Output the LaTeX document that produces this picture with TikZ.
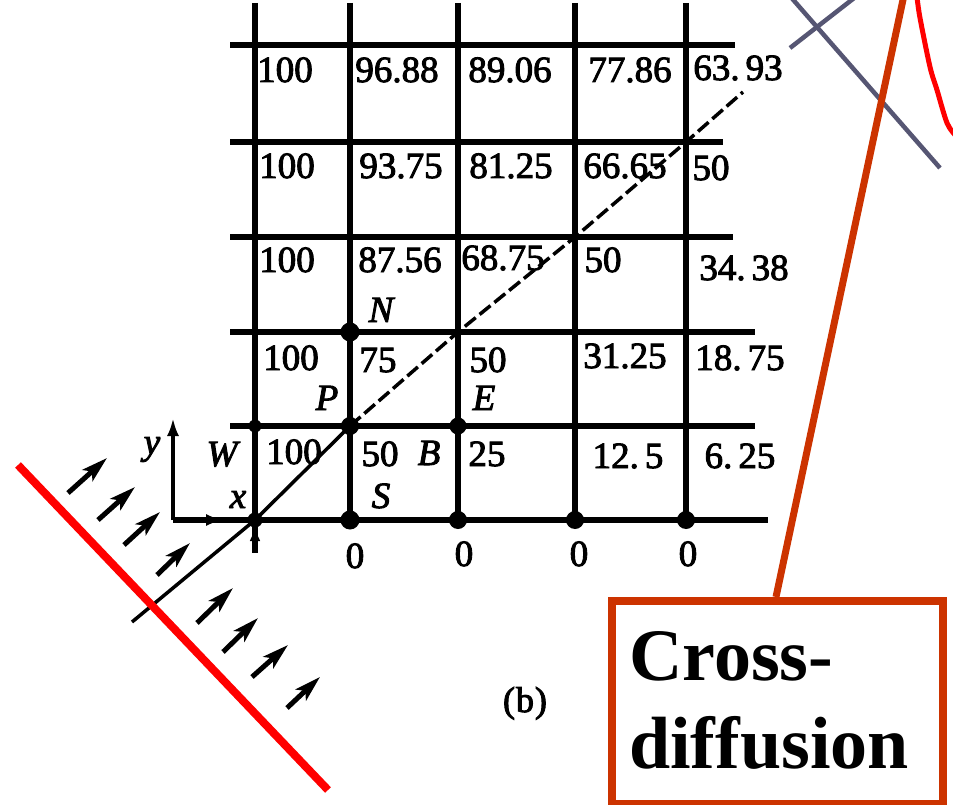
\documentclass[tikz,border=0pt]{standalone}
\usepackage{fontspec}
\setmainfont{Liberation Serif}
\newfontfamily\scanfont[FakeBold=2.5]{Liberation Serif}
\usetikzlibrary{arrows.meta}
\definecolor{boxred}{RGB}{204,51,0}
\definecolor{slate}{RGB}{86,86,115}
\begin{document}
\begin{tikzpicture}[x=1pt,y=-1pt,
  gridline/.style={line width=5.5pt},
  num/.style={anchor=base,inner sep=0pt,font=\scanfont\fontsize{37}{40}\selectfont},
  lab/.style={anchor=base,inner sep=0pt,font=\scanfont\fontsize{37}{40}\selectfont\itshape},
  dot/.style={circle,fill=black,inner sep=0pt,minimum size=#1},
  dot/.default=17pt,
  flow/.style={line width=5pt,-{Stealth[length=26pt,width=15pt,inset=6pt]}},
  axisline/.style={line width=3.5pt},
]
\useasboundingbox (0,0) rectangle (953,805);
% grid
\foreach \x in {255,350,458,575,686} \draw[gridline] (\x,3) -- (\x,520);
\draw[gridline] (255,520) -- (255,553);
\draw[gridline] (230,45) -- (735,45);
\draw[gridline] (230,142) -- (723,142);
\draw[gridline] (230,237) -- (733,237);
\draw[gridline] (230,332) -- (755,332);
\draw[gridline] (230,426) -- (755,426);
\draw[gridline] (173,520) -- (768,520);
% axes
\coordinate (o) at (173,520);
\coordinate (ytip) at (173,418);
\coordinate (xtip) at (224,520);
\draw[axisline,-{Latex[length=18pt,width=12pt]}] (o) -- (ytip);
\draw[axisline,-{Latex[length=18pt,width=12pt]}] (o) -- (xtip);
\coordinate (ub) at (255,553);
\coordinate (ut) at (255,527);
\draw[axisline,-{Latex[length=14pt,width=11pt]}] (ub) -- (ut);
% diagonal
\coordinate (d0) at (132,622);
\coordinate (d1) at (255,520);
\coordinate (d2) at (350,426);
\coordinate (d3) at (458,332);
\coordinate (d4) at (575,237);
\coordinate (d5) at (686,142);
\coordinate (d6) at (743,92);
\draw[line width=3.5pt] (d0) -- (d1) -- (d2);
\draw[line width=3.5pt,dash pattern=on 14pt off 5pt] (d2) -- (d3) -- (d4) -- (d5) -- (d6);
% dots
\node[dot=19pt] (nN) at (350,332) {};
\node[dot=18pt] (nP) at (350,426) {};
\node[dot=13pt] (nW) at (255,426) {};
\node[dot=17pt] (nE) at (458,426) {};
\node[dot=15pt] (b1) at (255,520) {};
\node[dot=19pt] (b2) at (350,520) {};
\node[dot=18pt] (b3) at (458,520) {};
\node[dot=18pt] (b4) at (575,520) {};
\node[dot=18pt] (b5) at (686,520) {};
% numbers row 1
\node[num] (r1a) at (285,82) {100};
\node[num] (r1b) at (397,82) {96.88};
\node[num] (r1c) at (510,82) {89.06};
\node[num] (r1d) at (630,82) {77.86};
\node[num] (r1e) at (738,80) {63.\kern6pt 93};
% row 2
\node[num] (r2a) at (287,178) {100};
\node[num] (r2b) at (401,178) {93.75};
\node[num] (r2c) at (511,178) {81.25};
\node[num] (r2d) at (625,178) {66.65};
\node[num] (r2e) at (711,180) {50};
% row 3
\node[num] (r3a) at (287,272) {100};
\node[num] (r3b) at (400,272) {87.56};
\node[num] (r3c) at (503,270) {68.75};
\node[num] (r3d) at (603,272) {50};
\node[num] (r3e) at (744,280) {34.\kern6pt 38};
% row 4
\node[num] (r4a) at (291,370) {100};
\node[num] (r4b) at (378,372) {75};
\node[num] (r4c) at (488,372) {50};
\node[num] (r4d) at (625,368) {31.25};
\node[num] (r4e) at (740,370) {18.\kern6pt 75};
% row 5
\node[num] (r5a) at (294,464) {100};
\node[num] (r5b) at (380,466) {50};
\node[num] (r5c) at (487,466) {25};
\node[num] (r5d) at (628,468) {12.\kern6pt 5};
\node[num] (r5e) at (740,468) {6.\kern6pt 25};
% bottom zeros
\node[num] (z1) at (355,568) {0};
\node[num] (z2) at (464,566) {0};
\node[num] (z3) at (579,566) {0};
\node[num] (z4) at (688,566) {0};
% letters
\node[lab] (lN) at (381,322) {N};
\node[lab] (lP) at (327,410) {P};
\node[lab] (lE) at (484,410) {E};
\node[lab] (lB) at (429,465) {B};
\node[lab] (lS) at (381,508) {S};
\node[lab] (lW) at (222,466) {W};
\node[lab] (ly) at (152,454) {y};
\node[lab] (lx) at (238,508) {x};
\node[anchor=base,inner sep=0pt,font=\scanfont\fontsize{36}{40}\selectfont] (cap) at (525,712) {(\kern1pt b\kern1pt)};
% flow arrows
\draw[flow] (68,493) -- (107,458);
\draw[flow] (98,520) -- (135,487);
\draw[flow] (124,545) -- (160,512);
\draw[flow] (157,575) -- (190,543);
\draw[flow] (197,623) -- (233,588);
\draw[flow] (223,652) -- (258,618);
\draw[flow] (252,677) -- (288,645);
\draw[flow] (287,708) -- (320,677);
% red line
\coordinate (ra) at (18,465);
\coordinate (rb) at (328,790);
\draw[red,line width=8pt] (ra) -- (rb);
% slate lines
\coordinate (s1a) at (790,48);
\coordinate (s1b) at (858,-5);
\coordinate (s2a) at (789,-5);
\coordinate (s2b) at (940,168);
\draw[slate,line width=4.5pt] (s1a) -- (s1b);
\draw[slate,line width=4.5pt] (s2a) -- (s2b);
% red curve
\draw[red,line width=5pt] plot[smooth] coordinates {(917,-3) (920,18) (930,67) (937,90) (947,123) (956,136)};
% callout
\coordinate (ot) at (904,-5);
\coordinate (ob) at (776,597);
\draw[boxred,line width=7pt] (ot) -- (ob);
\node[draw=boxred,line width=8pt,fill=white,minimum width=331pt,minimum height=203pt,anchor=north west,inner sep=0pt] (box) at (608,597) {};
\node[anchor=base west,inner sep=0pt,font=\fontsize{74}{88}\selectfont\bfseries] (t1) at (629,680) {Cross-};
\node[anchor=base west,inner sep=0pt,font=\fontsize{74}{88}\selectfont\bfseries] (t2) at (629,768) {diffusion};
\end{tikzpicture}
\end{document}
